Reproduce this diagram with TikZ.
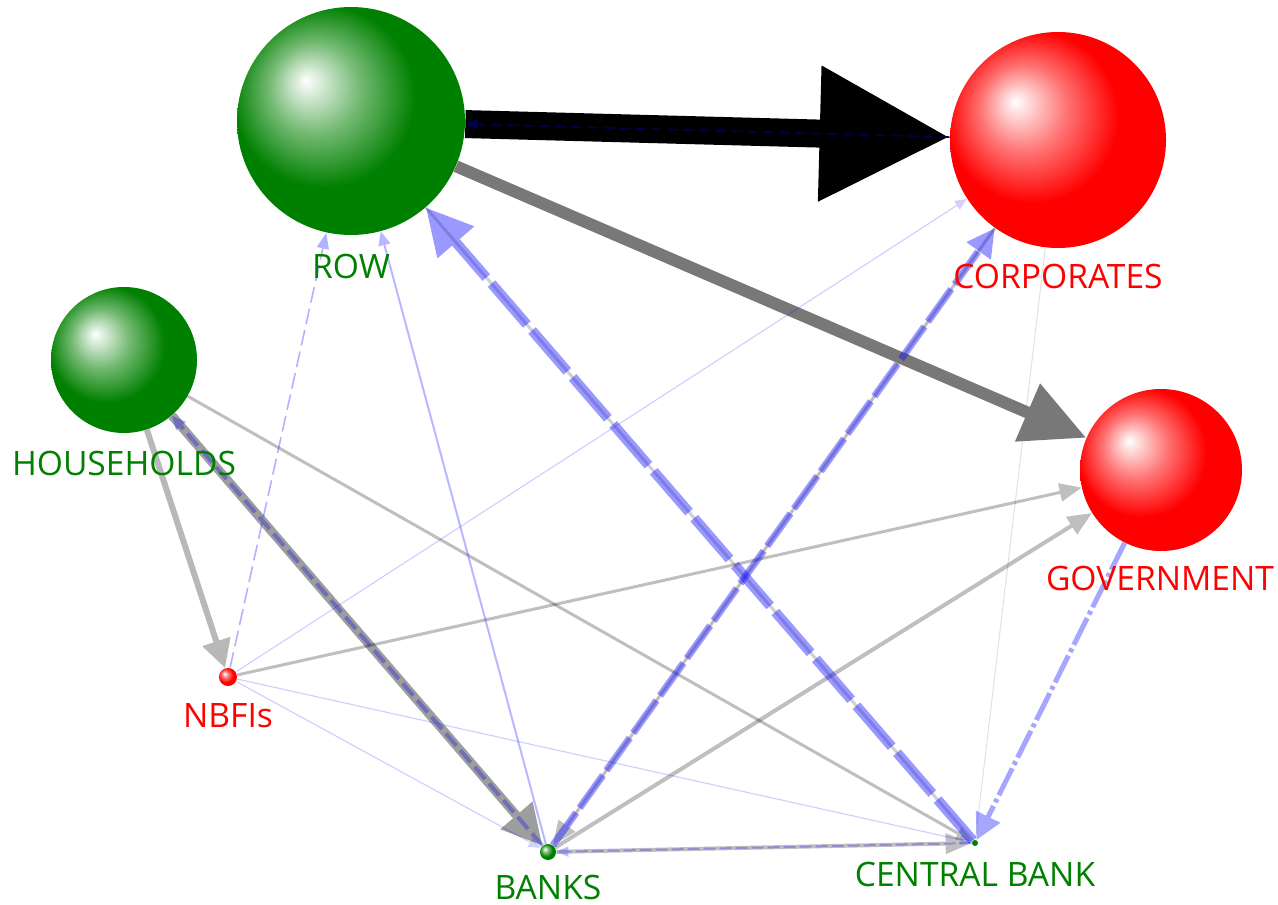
\documentclass[tikz,border=0pt]{standalone}
\usepackage{fontspec}
\setmainfont{Open Sans}
\usepackage{xcolor}
\definecolor{sgreen}{HTML}{008000}
\definecolor{sred}{HTML}{FF0000}
\definecolor{nnavy}{HTML}{000050}
\usetikzlibrary{arrows.meta}
\pgfdeclareradialshading{greenball}{\pgfpoint{-10bp}{9bp}}{color(0bp)=(white); color(10bp)=(sgreen!55!white); color(20bp)=(sgreen); color(50bp)=(sgreen)}
\pgfdeclareradialshading{redball}{\pgfpoint{-10bp}{9bp}}{color(0bp)=(white); color(10bp)=(sred!55!white); color(20bp)=(sred); color(50bp)=(sred)}

\begin{document}
\begin{tikzpicture}[x=0.5pt,y=-0.5pt,
		sector/.style={circle,inner sep=0pt},
		lbl/.style={anchor=base,font=\fontsize{16.8}{20}\selectfont},
		flow/.style={black},
		claim/.style={blue},
		see/.style={transparency group,opacity=#1}]
	\useasboundingbox (0,0) rectangle (1278,904);
	% sectors
	\node[sector,shading=greenball,minimum size=114pt] (row) at (351,121) {};
	\node[sector,shading=redball,minimum size=108pt] (corp) at (1058,140) {};
	\node[sector,shading=greenball,minimum size=73pt] (hh) at (124,360) {};
	\node[sector,shading=redball,minimum size=81pt] (gov) at (1161,470) {};
	\node[sector,shading=redball,minimum size=9pt] (nbfi) at (228,677) {};
	\node[sector,shading=greenball,minimum size=8pt] (banks) at (548,852) {};
	\node[sector,fill=sgreen,minimum size=3pt] (cb) at (975,843) {};
	% flows (grey)
	\begin{scope}[see=.18]\draw[flow, line width=1.5pt] (row) -- (cb);\end{scope}
	\begin{scope}[see=.12]\draw[flow, line width=.5pt] (corp) -- (cb);\end{scope}
	\begin{scope}[see=.28]\draw[flow, line width=3pt, -{Triangle[length=14pt,width=14pt]}] (hh) -- (nbfi);\end{scope}
	\begin{scope}[see=.38]\draw[flow, line width=4.5pt, -{Triangle[length=20pt,width=20pt]}] (hh) -- (banks);\end{scope}
	\begin{scope}[see=.25]\draw[flow, line width=1.5pt, -{Triangle[length=8pt,width=6pt]}] (hh) -- (cb);\end{scope}
	\begin{scope}[see=.25]\draw[flow, line width=1.5pt, -{Triangle[length=11pt,width=9pt]}] (nbfi) -- (gov);\end{scope}
	\begin{scope}[see=.25]\draw[flow, line width=2pt, -{Triangle[length=12pt,width=10pt]}] (banks) -- (gov);\end{scope}
	\begin{scope}[see=.25]\draw[flow, line width=2pt, -{Triangle[length=13pt,width=10pt]}] (banks) -- (cb);\end{scope}
	\begin{scope}[see=.25]\draw[flow, line width=1.5pt, -{Triangle[length=12pt,width=10pt]}] (corp) -- (banks);\end{scope}
	\draw[black!53, line width=6pt, -{Triangle[length=32pt,width=30pt]}] (row) -- (gov);
	\draw[black, line width=14pt, -{Triangle[length=65pt,width=64pt]}] (row) -- (corp);
	% claims (blue)
	\draw[nnavy, line width=.8pt, dash pattern=on 5pt off 3pt, -{Triangle[length=6pt,width=5pt]}] (corp) -- (row);
	\begin{scope}[see=.4]\draw[claim, line width=5pt, dash pattern=on 27pt off 4pt, -{Triangle[length=23pt,width=23pt]}] (cb) -- (row);\end{scope}
	\begin{scope}[see=.35]\draw[claim, line width=2.5pt, dash pattern=on 15pt off 2pt on 2pt off 2pt, -{Triangle[length=13pt,width=13pt]}] (gov) -- (cb);\end{scope}
	\begin{scope}[see=.4]\draw[claim, line width=3.5pt, dash pattern=on 20pt off 3pt, -{Triangle[length=14pt,width=14pt]}] (banks) -- (corp);\end{scope}
	\begin{scope}[see=.3]\draw[claim, line width=2pt, dash pattern=on 8pt off 3pt, -{Triangle[length=7pt,width=6pt]}] (banks) -- (hh);\end{scope}
	\begin{scope}[see=.3]\draw[claim, line width=.8pt, dash pattern=on 8pt off 3pt, -{Triangle[length=8pt,width=6pt]}] (nbfi) -- (row);\end{scope}
	\begin{scope}[see=.28]\draw[claim, line width=1pt, -{Triangle[length=7pt,width=6pt]}] (banks) -- (row);\end{scope}
	\begin{scope}[see=.18]\draw[claim, line width=.6pt, -{Triangle[length=6pt,width=5pt]}] (nbfi) -- (corp);\end{scope}
	\begin{scope}[see=.18]\draw[claim, line width=.6pt, -{Triangle[length=6pt,width=5pt]}] (nbfi) -- (banks);\end{scope}
	\begin{scope}[see=.18]\draw[claim, line width=.6pt, -{Triangle[length=6pt,width=5pt]}] (nbfi) -- (cb);\end{scope}
	\begin{scope}[see=.25]\draw[claim, line width=1pt, dash pattern=on 6pt off 2pt, -{Triangle[length=6pt,width=5pt]}] (cb) -- (banks);\end{scope}
	% labels
	\node[lbl,text=sgreen] (rowlbl) at (351,278) {ROW};
	\node[lbl,text=sred] (corplbl) at (1058,288) {CORPORATES};
	\node[lbl,text=sgreen] (hhlbl) at (124,475) {HOUSEHOLDS};
	\node[lbl,text=sred] (govlbl) at (1160,590) {GOVERNMENT};
	\node[lbl,text=sred] (nbfilbl) at (228,727) {NBFIs};
	\node[lbl,text=sgreen] (bankslbl) at (548,899) {BANKS};
	\node[lbl,text=sgreen] (cblbl) at (975,886) {CENTRAL BANK};
\end{tikzpicture}
\end{document}
